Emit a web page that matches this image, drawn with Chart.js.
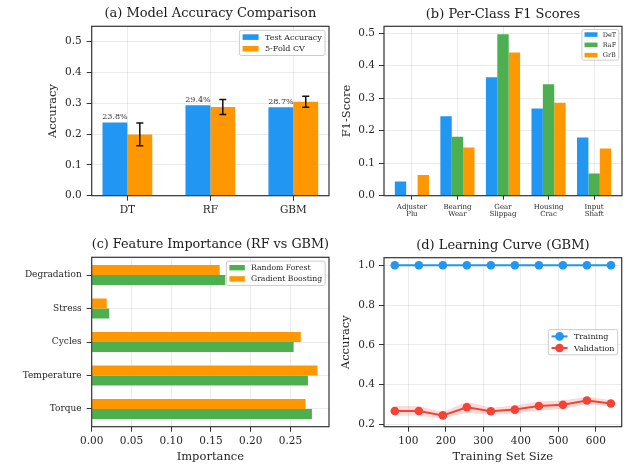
<!DOCTYPE html>
<html>
<head>
<meta charset="utf-8">
<script src="https://cdn.jsdelivr.net/npm/chart.js@4/dist/chart.umd.min.js"></script>
<style>
  html, body { margin: 0; padding: 0; background: #ffffff; }
  #wrap { position: relative; width: 626px; height: 468px; overflow: hidden; background: #ffffff; }
  #wrap canvas { position: absolute; }
</style>
</head>
<body>
<div id="wrap">
  <canvas id="cA" width="333" height="230" style="left:0;top:0;width:333px;height:230px"></canvas>
  <canvas id="cB" width="293" height="230" style="left:333px;top:0;width:293px;height:230px"></canvas>
  <canvas id="cC" width="333" height="238" style="left:0;top:230px;width:333px;height:238px"></canvas>
  <canvas id="cD" width="293" height="238" style="left:333px;top:230px;width:293px;height:238px"></canvas>
</div>
<script>
// ---- (a) model accuracy ----
const models = ['DT', 'RF', 'GBM'];
const testAcc = [0.238, 0.294, 0.287];
const cvMean = [0.199, 0.288, 0.305];
const cvStd = [0.037, 0.024, 0.018];
const accTicks = [0, 0.1, 0.2, 0.3, 0.4, 0.5];

// ---- (b) per-class F1 ----
const classLabels = [['Adjuster', 'Plu'], ['Bearing', 'Wear'], ['Gear', 'Slippag'], ['Housing', 'Crac'], ['Input', 'Shaft']];
const f1DeT = [0.044, 0.244, 0.364, 0.268, 0.179];
const f1RaF = [0.000, 0.181, 0.496, 0.343, 0.068];
const f1GrB = [0.064, 0.148, 0.440, 0.286, 0.145];
const f1Ticks = [0, 0.1, 0.2, 0.3, 0.4, 0.5];

// ---- (c) feature importance ----
const features = ['Torque', 'Temperature', 'Cycles', 'Stress', 'Degradation'];
const impRF = [0.277, 0.272, 0.254, 0.022, 0.168];
const impGB = [0.269, 0.284, 0.263, 0.019, 0.161];
const impTicks = [0, 0.05, 0.10, 0.15, 0.20, 0.25];

// ---- (d) learning curve ----
const trainSizes = [64, 128, 192, 256, 320, 384, 448, 512, 576, 640];
const trainScore = [1.0, 1.0, 1.0, 1.0, 1.0, 1.0, 1.0, 1.0, 1.0, 1.0];
const valScore = [0.267, 0.267, 0.245, 0.286, 0.266, 0.274, 0.292, 0.298, 0.320, 0.305];
const valStd = [0.022, 0.022, 0.015, 0.025, 0.016, 0.018, 0.020, 0.020, 0.016, 0.015];
const sizeTicks = [100, 200, 300, 400, 500, 600];
const curveTicks = [0.2, 0.4, 0.6, 0.8, 1.0];

const SERIF = "'DejaVu Serif', 'Liberation Serif', serif";
const BLUE = '#2196F3', ORANGE = '#FF9800', GREEN = '#4CAF50', RED = '#F44336';
const GRID = 'rgba(0,0,0,0.10)';
const FRAME = '#333333';
const TEXT = '#262626';

Chart.defaults.font.family = SERIF;
Chart.defaults.color = TEXT;
Chart.defaults.animation = false;

function linAxis(o) {
  return {
    type: 'linear', min: o.min, max: o.max, bounds: 'data', offset: false,
    afterBuildTicks: s => { s.ticks = o.ticks.map(v => ({ value: v })); },
    afterFit: s => { if (s.isHorizontal()) s.height = o.fit; else s.width = o.fit; },
    grid: { offset: false, color: GRID, lineWidth: 0.8, drawTicks: true,
            tickLength: o.tickLen ?? 5, tickColor: FRAME, tickWidth: 1 },
    border: { display: false },
    ticks: { autoSkip: false, maxRotation: 0, minRotation: 0, padding: o.tickPad ?? 3,
             color: TEXT, font: { size: o.size ?? 10.5, lineHeight: o.lineHeight ?? 1.2 },
             callback: o.fmt },
    title: o.title ? { display: true, text: o.title, color: TEXT,
                       font: { size: 11.5, lineHeight: 1.2 }, padding: o.titlePad }
                   : { display: false }
  };
}

function panelTitle(text, top, bottom) {
  return { display: true, text, fullSize: false, color: '#1a1a1a',
           font: { size: 13, weight: 'normal', lineHeight: 1 },
           padding: { top, bottom } };
}

function roundRectPath(ctx, x, y, w, h, r) {
  ctx.beginPath();
  ctx.moveTo(x + r, y);
  ctx.lineTo(x + w - r, y); ctx.quadraticCurveTo(x + w, y, x + w, y + r);
  ctx.lineTo(x + w, y + h - r); ctx.quadraticCurveTo(x + w, y + h, x + w - r, y + h);
  ctx.lineTo(x + r, y + h); ctx.quadraticCurveTo(x, y + h, x, y + h - r);
  ctx.lineTo(x, y + r); ctx.quadraticCurveTo(x, y, x + r, y);
  ctx.closePath();
}

// Boxed legend drawn inside the plot area, on top of the marks.
function drawLegend(chart, cfg) {
  const { ctx, chartArea: a } = chart;
  const fs = cfg.size;
  const items = cfg.order.map(i => chart.data.datasets[i]);
  ctx.save();
  ctx.font = `${fs}px ${SERIF}`;
  const textW = Math.max(...items.map(d => ctx.measureText(d.label).width));
  const padX = 0.4 * fs, hw = 2 * fs, gap = 0.8 * fs;
  const rowH = cfg.rowH ?? 1.45 * fs, edge = cfg.edge ?? 0.85 * fs;
  const w = padX + hw + gap + textW + padX;
  const h = (items.length - 1) * rowH + 2 * edge;
  const right = a.right - 0.5 * fs;
  const left = right - w;
  const top = cfg.anchor === 'right' ? (a.top + a.bottom) / 2 - h / 2 : a.top + 0.5 * fs;
  roundRectPath(ctx, left, top, w, h, 0.25 * fs);
  ctx.fillStyle = 'rgba(255,255,255,0.8)';
  ctx.fill();
  ctx.strokeStyle = '#cccccc';
  ctx.lineWidth = 1;
  ctx.stroke();
  items.forEach((d, k) => {
    const cy = top + edge + k * rowH;
    const hx = left + padX;
    if (cfg.type === 'line') {
      ctx.strokeStyle = d.borderColor;
      ctx.lineWidth = 2;
      ctx.beginPath(); ctx.moveTo(hx, cy); ctx.lineTo(hx + hw, cy); ctx.stroke();
      ctx.fillStyle = d.pointBackgroundColor;
      ctx.beginPath(); ctx.arc(hx + hw / 2, cy, d.pointRadius, 0, Math.PI * 2); ctx.fill();
    } else {
      ctx.fillStyle = d.backgroundColor;
      ctx.fillRect(hx, cy - 0.35 * fs, hw, 0.7 * fs);
    }
    ctx.fillStyle = TEXT;
    ctx.textBaseline = 'middle';
    ctx.textAlign = 'left';
    ctx.fillText(d.label, hx + hw + gap, cy + 0.5);
  });
  ctx.restore();
}

const panelExtras = {
  id: 'panelExtras',
  afterDatasetsDraw(chart, args, opts) {
    const { ctx, chartArea: a } = chart;
    if (opts.errors) {
      const idx = opts.errors.dataset;
      const meta = chart.getDatasetMeta(idx);
      const ds = chart.data.datasets[idx];
      const ys = chart.scales.y;
      ctx.save();
      ctx.strokeStyle = '#111111';
      ctx.lineWidth = 1.5;
      meta.data.forEach((bar, i) => {
        const v = ds.data[i].y, e = opts.errors.values[i];
        const y1 = ys.getPixelForValue(v - e), y2 = ys.getPixelForValue(v + e);
        ctx.beginPath();
        ctx.moveTo(bar.x, y1); ctx.lineTo(bar.x, y2);
        ctx.moveTo(bar.x - 3.5, y1); ctx.lineTo(bar.x + 3.5, y1);
        ctx.moveTo(bar.x - 3.5, y2); ctx.lineTo(bar.x + 3.5, y2);
        ctx.stroke();
      });
      ctx.restore();
    }
    if (opts.valueLabels) {
      const idx = opts.valueLabels.dataset;
      const meta = chart.getDatasetMeta(idx);
      const ds = chart.data.datasets[idx];
      ctx.save();
      ctx.font = `8px ${SERIF}`;
      ctx.fillStyle = '#333333';
      ctx.textAlign = 'center';
      ctx.textBaseline = 'bottom';
      meta.data.forEach((bar, i) => {
        ctx.fillText((ds.data[i].y * 100).toFixed(1) + '%', bar.x, bar.y - 1);
      });
      ctx.restore();
    }
    ctx.save();
    ctx.strokeStyle = FRAME;
    ctx.lineWidth = 1.2;
    ctx.strokeRect(a.left, a.top, a.right - a.left, a.bottom - a.top);
    ctx.restore();
    if (opts.legend) drawLegend(chart, opts.legend);
  }
};

const basePlugins = { legend: { display: false }, tooltip: { enabled: false } };

// (a) Model Accuracy Comparison
new Chart(document.getElementById('cA'), {
  type: 'bar',
  data: {
    datasets: [
      { label: 'Test Accuracy', backgroundColor: BLUE, data: models.map((m, i) => ({ x: i, y: testAcc[i] })) },
      { label: '5-Fold CV', backgroundColor: ORANGE, data: models.map((m, i) => ({ x: i, y: cvMean[i] })) }
    ]
  },
  options: {
    responsive: false,
    layout: { padding: { left: 0, right: 4, top: 0, bottom: 0 } },
    datasets: { bar: { categoryPercentage: 0.6, barPercentage: 1.0 } },
    plugins: {
      ...basePlugins,
      title: panelTitle('(a) Model Accuracy Comparison', 6.8, 6.5),
      panelExtras: {
        errors: { dataset: 1, values: cvStd },
        valueLabels: { dataset: 0 },
        legend: { order: [0, 1], size: 8 }
      }
    },
    scales: {
      x: linAxis({ min: -0.43, max: 2.43, ticks: [0, 1, 2], fmt: v => models[v], fit: 34.3, tickPad: 3 }),
      y: linAxis({ min: 0, max: 0.55, ticks: accTicks, fmt: v => v.toFixed(1), fit: 91.7, tickPad: 5,
                   title: 'Accuracy', titlePad: { top: 46, bottom: 0 } })
    }
  },
  plugins: [panelExtras]
});

// (b) Per-Class F1 Scores
new Chart(document.getElementById('cB'), {
  type: 'bar',
  data: {
    datasets: [
      { label: 'DeT', backgroundColor: BLUE, data: classLabels.map((c, i) => ({ x: i, y: f1DeT[i] })) },
      { label: 'RaF', backgroundColor: GREEN, data: classLabels.map((c, i) => ({ x: i, y: f1RaF[i] })) },
      { label: 'GrB', backgroundColor: ORANGE, data: classLabels.map((c, i) => ({ x: i, y: f1GrB[i] })) }
    ]
  },
  options: {
    responsive: false,
    layout: { padding: { left: 0, right: 4, top: 0, bottom: 0 } },
    datasets: { bar: { categoryPercentage: 0.75, barPercentage: 1.0 } },
    plugins: {
      ...basePlugins,
      title: panelTitle('(b) Per-Class F1 Scores', 7.7, 5.6),
      panelExtras: { legend: { order: [0, 1, 2], size: 6.5, rowH: 10.3, edge: 5 } }
    },
    scales: {
      x: linAxis({ min: -0.6125, max: 4.6125, ticks: [0, 1, 2, 3, 4], fmt: v => classLabels[v],
                   size: 7, lineHeight: 1, fit: 34.3, tickLen: 4, tickPad: 4 }),
      y: linAxis({ min: 0, max: 0.5208, ticks: f1Ticks, fmt: v => v.toFixed(1), fit: 51, tickPad: 4,
                   title: 'F1-Score', titlePad: { top: 6.8, bottom: 0 } })
    }
  },
  plugins: [panelExtras]
});

// (c) Feature Importance (RF vs GBM)
new Chart(document.getElementById('cC'), {
  type: 'bar',
  data: {
    datasets: [
      { label: 'Gradient Boosting', backgroundColor: ORANGE, data: features.map((f, i) => ({ y: i, x: impGB[i] })) },
      { label: 'Random Forest', backgroundColor: GREEN, data: features.map((f, i) => ({ y: i, x: impRF[i] })) }
    ]
  },
  options: {
    responsive: false,
    indexAxis: 'y',
    layout: { padding: { left: 0, right: 4, top: 0, bottom: 0 } },
    datasets: { bar: { categoryPercentage: 0.6, barPercentage: 1.0 } },
    plugins: {
      ...basePlugins,
      title: panelTitle('(c) Feature Importance (RF vs GBM)', 8.5, 5.8),
      panelExtras: { legend: { order: [1, 0], size: 7.7 } }
    },
    scales: {
      x: linAxis({ min: 0, max: 0.2985, ticks: impTicks, fmt: v => v.toFixed(2), fit: 41.3, tickPad: 3,
                   title: 'Importance', titlePad: { top: 0, bottom: 4.4 } }),
      y: linAxis({ min: -0.53, max: 4.53, ticks: [0, 1, 2, 3, 4], fmt: v => features[v], size: 9,
                   fit: 91.7, tickPad: 5 })
    }
  },
  plugins: [panelExtras]
});

// (d) Learning Curve (GBM)
new Chart(document.getElementById('cD'), {
  type: 'line',
  data: {
    datasets: [
      { label: 'Training', data: trainSizes.map((n, i) => ({ x: n, y: trainScore[i] })),
        borderColor: BLUE, backgroundColor: BLUE, pointBackgroundColor: BLUE, pointBorderColor: BLUE,
        borderWidth: 2, pointRadius: 4.3, pointBorderWidth: 0, fill: false, tension: 0 },
      { label: 'Validation', data: trainSizes.map((n, i) => ({ x: n, y: valScore[i] })),
        borderColor: RED, backgroundColor: RED, pointBackgroundColor: RED, pointBorderColor: RED,
        borderWidth: 2, pointRadius: 4.3, pointBorderWidth: 0, fill: false, tension: 0 },
      { label: 'Validation + std', data: trainSizes.map((n, i) => ({ x: n, y: valScore[i] + valStd[i] })),
        borderColor: 'rgba(244,67,54,0.15)', borderWidth: 0.8, pointRadius: 0,
        backgroundColor: 'rgba(244,67,54,0.18)', fill: '+1', tension: 0 },
      { label: 'Validation - std', data: trainSizes.map((n, i) => ({ x: n, y: valScore[i] - valStd[i] })),
        borderColor: 'rgba(244,67,54,0.15)', borderWidth: 0.8, pointRadius: 0, fill: false, tension: 0 }
    ]
  },
  options: {
    responsive: false,
    layout: { padding: { left: 0, right: 4, top: 0, bottom: 0 } },
    plugins: {
      ...basePlugins,
      title: panelTitle('(d) Learning Curve (GBM)', 9.3, 5.4),
      panelExtras: { legend: { order: [0, 1], size: 8, type: 'line', anchor: 'right' } }
    },
    scales: {
      x: linAxis({ min: 35.2, max: 668.8, ticks: sizeTicks, fmt: v => String(v), fit: 41.3, tickPad: 3,
                   title: 'Training Set Size', titlePad: { top: 0, bottom: 4.4 } }),
      y: linAxis({ min: 0.188, max: 1.038, ticks: curveTicks, fmt: v => v.toFixed(1), fit: 51, tickPad: 4,
                   title: 'Accuracy', titlePad: { top: 6.1, bottom: 0 } })
    }
  },
  plugins: [panelExtras]
});
</script>
</body>
</html>
